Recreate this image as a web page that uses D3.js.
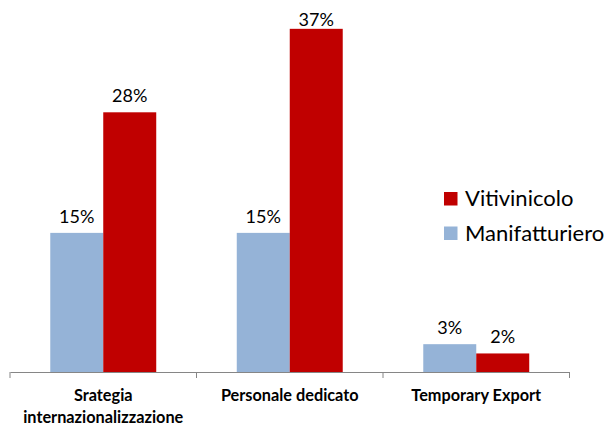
<!DOCTYPE html>
<html>
<head>
<meta charset="utf-8">
<script src="https://cdn.jsdelivr.net/npm/d3@7"></script>
<style>
  html, body { margin: 0; padding: 0; background: #fff; }
  svg { display: block; }
  text { font-family: Lato, "Open Sans", sans-serif; fill: #000; }
</style>
</head>
<body>
<svg id="chart" width="613" height="427"></svg>
<script>
// Categories and series (shares of firms)
const categories = ["Srategia internazionalizzazione", "Personale dedicato", "Temporary Export"];
const categoryLines = [["Srategia", "internazionalizzazione"], ["Personale dedicato"], ["Temporary Export"]];
const seriesNames = ["Manifatturiero", "Vitivinicolo"];
const manifatturiero = [0.15, 0.15, 0.03];
const vitivinicolo = [0.28, 0.37, 0.02];
const legendOrder = ["Vitivinicolo", "Manifatturiero"];

const colors = { "Manifatturiero": "#95B3D7", "Vitivinicolo": "#C00000" };
const values = { "Manifatturiero": manifatturiero, "Vitivinicolo": vitivinicolo };

const svg = d3.select("#chart");
const plot = { left: 10, right: 569.5, top: 1, bottom: 372 };

const x0 = d3.scaleBand().domain(categories).range([plot.left, plot.right]).paddingInner(0).paddingOuter(0);
const x1 = d3.scaleBand().domain(seriesNames).range([0, x0.bandwidth()]).paddingInner(0).paddingOuter(0.76);
const y = d3.scaleLinear().domain([0, 0.40]).range([plot.bottom, plot.top]);
const fmt = d3.format(".0%");

// Bars
const groups = svg.append("g").selectAll("g")
  .data(categories).join("g")
  .attr("transform", d => `translate(${x0(d)},0)`);

groups.selectAll("rect")
  .data((c, i) => seriesNames.map(s => ({ s, v: values[s][i] })))
  .join("rect")
  .attr("x", d => x1(d.s))
  .attr("y", d => y(d.v))
  .attr("width", x1.bandwidth())
  .attr("height", d => y(0) - y(d.v))
  .attr("fill", d => colors[d.s]);

// Value labels above the bars (kept inside the top edge)
groups.selectAll("text.val")
  .data((c, i) => seriesNames.map(s => ({ s, v: values[s][i] })))
  .join("text")
  .attr("class", "val")
  .attr("x", d => x1(d.s) + x1.bandwidth() / 2)
  .attr("y", d => Math.max(y(d.v) - 10, 26))
  .attr("text-anchor", "middle")
  .attr("font-size", 18)
  .text(d => fmt(d.v));

// Category axis
const axis = svg.append("g")
  .attr("transform", `translate(0,${plot.bottom})`)
  .call(d3.axisBottom(x0).tickSize(0).tickFormat(""));
axis.select(".domain").attr("stroke", "#868686").attr("stroke-width", 1);

const boundaries = [plot.left, ...categories.map(c => x0(c) + x0.bandwidth())];
axis.selectAll("line.sep").data(boundaries).join("line")
  .attr("class", "sep")
  .attr("x1", d => d).attr("x2", d => d)
  .attr("y1", 0).attr("y2", 6)
  .attr("stroke", "#868686");

const catLabels = svg.append("g").selectAll("text")
  .data(categories).join("text")
  .attr("x", d => x0(d) + x0.bandwidth() / 2)
  .attr("y", 401)
  .attr("text-anchor", "middle")
  .attr("font-size", 16.3)
  .attr("font-weight", "bold");
catLabels.each(function(d, i) {
  const t = d3.select(this);
  categoryLines[i].forEach((line, j) => {
    t.append("tspan").attr("x", x0(d) + x0.bandwidth() / 2).attr("dy", j === 0 ? 0 : 21.5).text(line);
  });
});

// Legend
const legend = svg.append("g").attr("transform", "translate(444,192)");
const items = legend.selectAll("g").data(legendOrder).join("g")
  .attr("transform", (d, i) => `translate(0,${i * 34.5})`);
items.append("rect").attr("width", 13.5).attr("height", 13.5).attr("fill", d => colors[d]);
items.append("text").attr("x", 21).attr("y", 14).attr("font-size", 22).text(d => d);
</script>
</body>
</html>
